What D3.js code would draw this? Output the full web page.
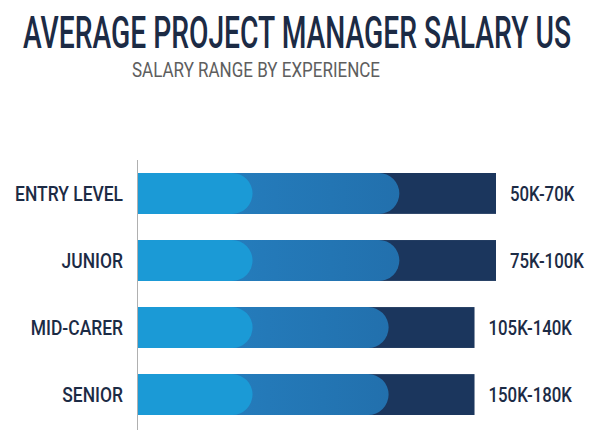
<!DOCTYPE html>
<html>
<head>
<meta charset="utf-8">
<script src="https://cdn.jsdelivr.net/npm/d3@7"></script>
<style>
  body { margin: 0; background: #fff; }
  svg { display: block; }
</style>
</head>
<body>
<div id="chart"></div>
<script>
// ---- data (bar lengths on a 0-100 visual scale) ----
var categories = ["ENTRY LEVEL", "JUNIOR", "MID-CARER", "SENIOR"];
var rangeLabels = ["50K-70K", "75K-100K", "105K-140K", "150K-180K"];
var lowEnd  = [32, 32, 32, 32];
var midEnd  = [73, 73, 70, 70];
var highEnd = [100, 100, 94, 94];

var W = 600, H = 448;
var colLow = "#1b9ad6", colHigh = "#1b365d";

var svg = d3.select("#chart").append("svg").attr("width", W).attr("height", H);

var defs = svg.append("defs");
var grad = defs.append("linearGradient").attr("id", "midGrad");
grad.append("stop").attr("offset", "0%").attr("stop-color", "#2683c4");
grad.append("stop").attr("offset", "100%").attr("stop-color", "#2270ad");

// squeeze text horizontally so it reads like a condensed face
function condense(sel, k) {
    sel.each(function() {
        var w = this.getComputedTextLength();
        this.setAttribute("textLength", w * k);
        this.setAttribute("lengthAdjust", "spacingAndGlyphs");
    });
}

var font = "Roboto, 'DejaVu Sans', sans-serif";

// titles
svg.append("text")
    .attr("x", 297).attr("y", 48)
    .attr("text-anchor", "middle")
    .attr("font-family", font)
    .attr("font-weight", 500)
    .attr("font-size", 45)
    .attr("fill", "#1c2b45")
    .attr("textLength", 548).attr("lengthAdjust", "spacingAndGlyphs")
    .text("AVERAGE PROJECT MANAGER SALARY US");

svg.append("text")
    .attr("x", 256).attr("y", 77)
    .attr("text-anchor", "middle")
    .attr("font-family", font)
    .attr("font-size", 21)
    .attr("fill", "#5e5e5e")
    .attr("textLength", 248).attr("lengthAdjust", "spacingAndGlyphs")
    .text("SALARY RANGE BY EXPERIENCE");

// scales
var x = d3.scaleLinear().domain([0, 100]).range([138, 496]);
var y = d3.scaleBand().domain(categories).range([160, 428])
    .paddingInner(0.39).paddingOuter(0.194);

var rows = categories.map(function(c, i) {
    return { cat: c, label: rangeLabels[i], low: lowEnd[i], mid: midEnd[i], high: highEnd[i] };
});

// rect with a rounded right end
function capsule(x0, x1, top, h) {
    var r = h / 2;
    var p = d3.path();
    p.moveTo(x0, top);
    p.lineTo(x1 - r, top);
    p.arc(x1 - r, top + r, r, -Math.PI / 2, Math.PI / 2);
    p.lineTo(x0, top + h);
    p.closePath();
    return p.toString();
}

var g = svg.append("g").selectAll("g").data(rows).enter().append("g");

g.append("rect")
    .attr("x", x(0))
    .attr("y", function(d) { return y(d.cat); })
    .attr("width", function(d) { return x(d.high) - x(0); })
    .attr("height", y.bandwidth())
    .attr("fill", colHigh);

g.append("path")
    .attr("d", function(d) { return capsule(x(0), x(d.mid), y(d.cat), y.bandwidth()); })
    .attr("fill", "url(#midGrad)");

g.append("path")
    .attr("d", function(d) { return capsule(x(0), x(d.low), y(d.cat), y.bandwidth()); })
    .attr("fill", colLow);

// axis line
svg.append("line")
    .attr("x1", 137.5).attr("x2", 137.5)
    .attr("y1", 160).attr("y2", 430)
    .attr("stroke", "#b0b0b0").attr("stroke-width", 1);

// category labels
var catText = svg.append("g").selectAll("text").data(rows).enter().append("text")
    .attr("x", 123)
    .attr("y", function(d) { return y(d.cat) + y.bandwidth() / 2 + 7.5; })
    .attr("text-anchor", "end")
    .attr("font-family", font)
    .attr("font-weight", 500)
    .attr("font-size", 21)
    .attr("fill", "#1c2b45")
    .text(function(d) { return d.cat; });
condense(catText, 0.83);

// range labels
var valText = svg.append("g").selectAll("text").data(rows).enter().append("text")
    .attr("x", function(d) { return x(d.high) + 14; })
    .attr("y", function(d) { return y(d.cat) + y.bandwidth() / 2 + 7.5; })
    .attr("font-family", font)
    .attr("font-weight", 500)
    .attr("font-size", 21)
    .attr("fill", "#1c2b45")
    .text(function(d) { return d.label; });
condense(valText, 0.8);
</script>
</body>
</html>
